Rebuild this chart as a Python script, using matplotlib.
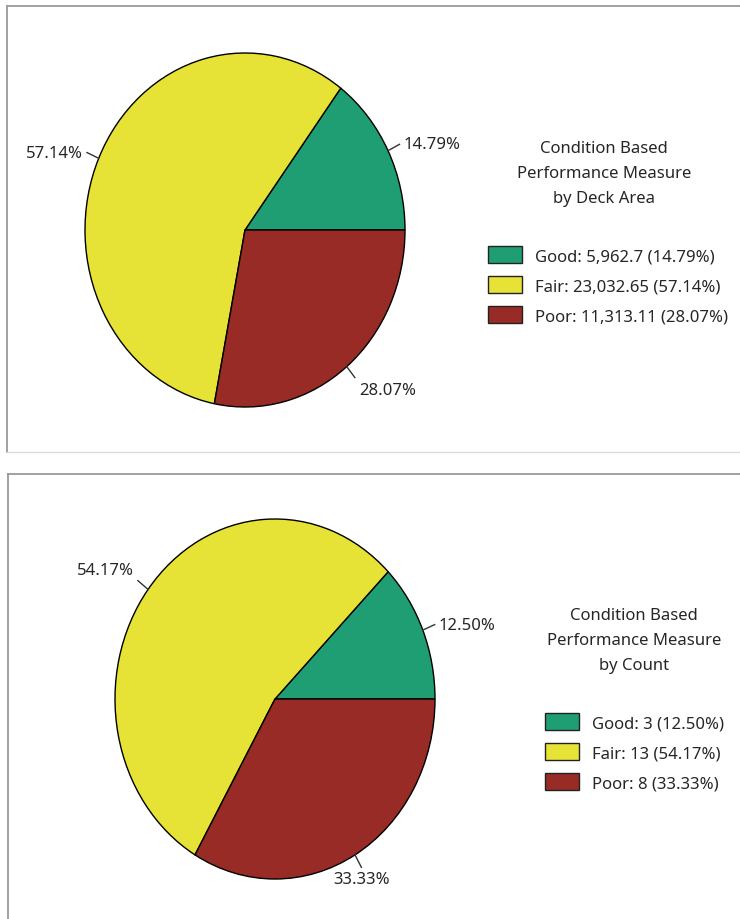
import matplotlib
matplotlib.use('Agg')
import matplotlib.pyplot as plt
import numpy as np
from matplotlib.patches import Patch

categories = ['Good', 'Fair', 'Poor']
deck_area = [5962.7, 23032.65, 11313.11]
bridge_count = [3, 13, 8]
titles = ['Condition Based\nPerformance Measure\nby Deck Area',
          'Condition Based\nPerformance Measure\nby Count']
colors = ['#1f9e74', '#e6e336', '#982b25']

plt.rcParams['font.family'] = ['Noto Sans', 'DejaVu Sans']
TXT = '#262626'
FS = 12

W, H = 740, 920
fig = plt.figure(figsize=(7.4, 9.2), dpi=100)
bg = fig.add_axes([0, 0, 1, 1])
bg.set_xlim(0, W)
bg.set_ylim(H, 0)
bg.axis('off')

# panel borders
bg.plot([7, W + 5], [7, 7], color='#9a9a9a', lw=1.3)
bg.plot([7, 7], [7, 453], color='#9a9a9a', lw=1.3)
bg.plot([7, W + 5], [453, 453], color='#dcdcdc', lw=1.0)
bg.plot([8, W + 5], [475, 475], color='#9a9a9a', lw=1.3)
bg.plot([8, 8], [475, H + 5], color='#9a9a9a', lw=1.3)

panels = [
    dict(values=deck_area, title=titles[0], cx=245, cy=231, rx=160, ry=177,
         tx=604, ty=174, lx=488, ly=247),
    dict(values=bridge_count, title=titles[1], cx=275, cy=700, rx=160, ry=180,
         tx=634, ty=641, lx=545, ly=714),
]

L = 1.3
for p in panels:
    vals = p['values']
    cx, cy, rx, ry = p['cx'], p['cy'], p['rx'], p['ry']
    ax = fig.add_axes([(cx - rx * L) / W, 1 - (cy + ry * L) / H,
                       2 * rx * L / W, 2 * ry * L / H])
    wedges, _ = ax.pie(vals, colors=colors, startangle=0, counterclock=True,
                       wedgeprops=dict(edgecolor='black', linewidth=1.0),
                       radius=1, frame=False)
    ax.set_xlim(-L, L)
    ax.set_ylim(-L, L)
    ax.set_aspect('auto')
    total = float(sum(vals))
    for w, v in zip(wedges, vals):
        w.set_clip_on(False)
        ang = np.deg2rad((w.theta1 + w.theta2) / 2)
        c, s = np.cos(ang), np.sin(ang)
        r2 = 1.08
        ax.plot([c, r2 * c], [s, r2 * s], color='#333333', lw=1.0, clip_on=False)
        if abs(c) < 0.55:
            ha, dx = 'center', 0
        elif c > 0:
            ha, dx = 'left', 4
        else:
            ha, dx = 'right', -4
        if s > 0.6:
            va, dy = 'bottom', 3
        elif s < -0.6:
            va, dy = 'top', -4
        else:
            va, dy = 'center', 0
        ax.annotate(f'{100 * v / total:.2f}%', xy=(r2 * c, r2 * s),
                    xytext=(dx, dy), textcoords='offset pixels',
                    ha=ha, va=va, fontsize=FS, color=TXT, annotation_clip=False)

    bg.text(p['tx'], p['ty'], p['title'], ha='center', va='center',
            fontsize=FS, color=TXT, linespacing=1.75)
    handles = [Patch(facecolor=col, edgecolor='#222222', linewidth=1.0)
               for col in colors]
    labels = [f'{cat}: {v:,} ({100 * v / total:.2f}%)'
              for cat, v in zip(categories, vals)]
    fig.legend(handles, labels, loc='upper left',
               bbox_to_anchor=(p['lx'] / W, 1 - p['ly'] / H),
               frameon=False, fontsize=FS, borderpad=0, borderaxespad=0,
               handlelength=2.05, handleheight=1.2, handletextpad=0.75,
               labelspacing=0.72, labelcolor=TXT)

fig.savefig('out.png', dpi=100)
